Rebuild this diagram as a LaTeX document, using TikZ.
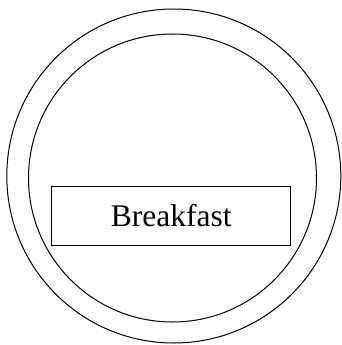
\documentclass[tikz,border=0pt]{standalone}
\usepackage{fontspec}
\setmainfont{Liberation Serif}
\usetikzlibrary{positioning}
\tikzset{
  ring/.style={circle, draw=black, line width=1pt, inner sep=0pt},
  meal/.style={rectangle, draw=black, line width=1pt, inner sep=0pt,
              minimum width=239pt, minimum height=59pt,
              font=\fontsize{31.5}{36}\selectfont},
}

\begin{document}
\begin{tikzpicture}[x=1pt,y=-1pt]
    \useasboundingbox (0,0) rectangle (341,345);
    \node[ring,minimum size=334pt] (plate) at (173.8,176) {};
    \node[ring,minimum size=288pt] (dish) at (172.5,178) {};
    \node[meal] (breakfast) at (171.2,215.5) {Breakfast};
  \end{tikzpicture}
\end{document}
